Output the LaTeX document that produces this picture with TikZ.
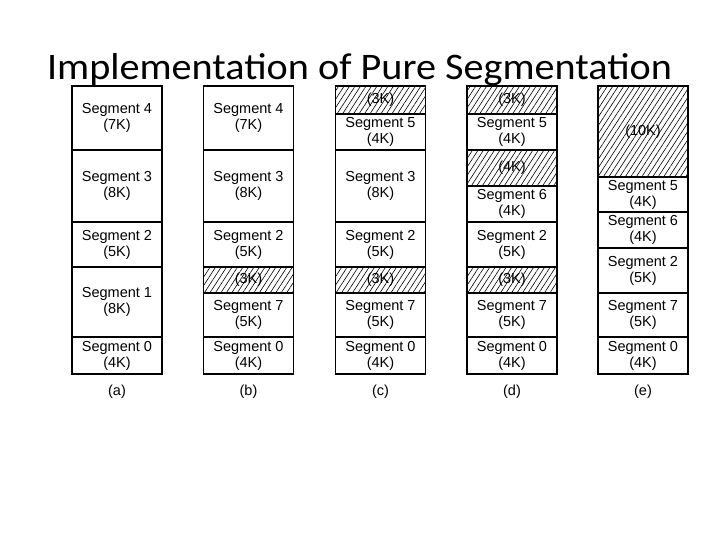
\documentclass[tikz,border=0pt]{standalone}
\usepackage{fontspec}
\setmainfont{Liberation Sans}
\newfontfamily\titlefont{Carlito}
\usetikzlibrary{patterns.meta}

\begin{document}
\begin{tikzpicture}[x=1pt, y=-1pt,
    every node/.style={font=\fontsize{14.5}{16}\selectfont},
    seg/.style={draw, line width=1.1pt, minimum width=90pt, inner sep=0pt, align=center},
    hole/.style={seg, pattern={Lines[angle=57, distance=4.6pt, line width=0.6pt]}}]
    \useasboundingbox (0,0) rectangle (720,540);
    \node[anchor=base, font=\titlefont\fontsize{37.5}{40}\selectfont] (title) at (359.5,79.5) {\scalebox{1.072}[1]{Implementation of Pure Segmentation}};
    % (a)
    \node[seg, minimum height=64pt] (a4) at (117,118) {Segment 4\\(7K)};
    \node[seg, minimum height=72pt] (a3) at (117,186) {Segment 3\\(8K)};
    \node[seg, minimum height=45pt] (a2) at (117,244.5) {Segment 2\\(5K)};
    \node[seg, minimum height=70pt] (a1) at (117,302) {Segment 1\\(8K)};
    \node[seg, minimum height=37pt] (a0) at (117,355.5) {Segment 0\\(4K)};
    % (b)
    \node[seg, minimum height=64pt] (b4) at (248.5,118) {Segment 4\\(7K)};
    \node[seg, minimum height=72pt] (b3) at (248.5,186) {Segment 3\\(8K)};
    \node[seg, minimum height=45pt] (b2) at (248.5,244.5) {Segment 2\\(5K)};
    \node[hole, minimum height=26pt] (bh) at (248.5,280) {(3K)};
    \node[seg, minimum height=44pt] (b7) at (248.5,315) {Segment 7\\(5K)};
    \node[seg, minimum height=37pt] (b0) at (248.5,355.5) {Segment 0\\(4K)};
    % (c)
    \node[hole, minimum height=28pt] (ch1) at (380.5,100) {(3K)};
    \node[seg, minimum height=36pt] (c5) at (380.5,132) {Segment 5\\(4K)};
    \node[seg, minimum height=72pt] (c3) at (380.5,186) {Segment 3\\(8K)};
    \node[seg, minimum height=45pt] (c2) at (380.5,244.5) {Segment 2\\(5K)};
    \node[hole, minimum height=26pt] (ch2) at (380.5,280) {(3K)};
    \node[seg, minimum height=44pt] (c7) at (380.5,315) {Segment 7\\(5K)};
    \node[seg, minimum height=37pt] (c0) at (380.5,355.5) {Segment 0\\(4K)};
    % (d)
    \node[hole, minimum height=28pt] (dh1) at (512,100) {(3K)};
    \node[seg, minimum height=36pt] (d5) at (512,132) {Segment 5\\(4K)};
    \node[hole, minimum height=36pt] (dh2) at (512,168) {(4K)};
    \node[seg, minimum height=36pt] (d6) at (512,204) {Segment 6\\(4K)};
    \node[seg, minimum height=45pt] (d2) at (512,244.5) {Segment 2\\(5K)};
    \node[hole, minimum height=26pt] (dh3) at (512,280) {(3K)};
    \node[seg, minimum height=44pt] (d7) at (512,315) {Segment 7\\(5K)};
    \node[seg, minimum height=37pt] (d0) at (512,355.5) {Segment 0\\(4K)};
    % (e)
    \node[hole, minimum height=91pt] (eh) at (643,131.5) {(10K)};
    \node[seg, minimum height=35pt] (e5) at (643,194.5) {Segment 5\\(4K)};
    \node[seg, minimum height=36pt] (e6) at (643,230) {Segment 6\\(4K)};
    \node[seg, minimum height=45pt] (e2) at (643,270.5) {Segment 2\\(5K)};
    \node[seg, minimum height=44pt] (e7) at (643,315) {Segment 7\\(5K)};
    \node[seg, minimum height=37pt] (e0) at (643,355.5) {Segment 0\\(4K)};
    % captions
    \node (la) at (117,392) {(a)};
    \node (lb) at (248.5,392) {(b)};
    \node (lc) at (380.5,392) {(c)};
    \node (ld) at (512,392) {(d)};
    \node (le) at (643,392) {(e)};
\end{tikzpicture}
\end{document}
